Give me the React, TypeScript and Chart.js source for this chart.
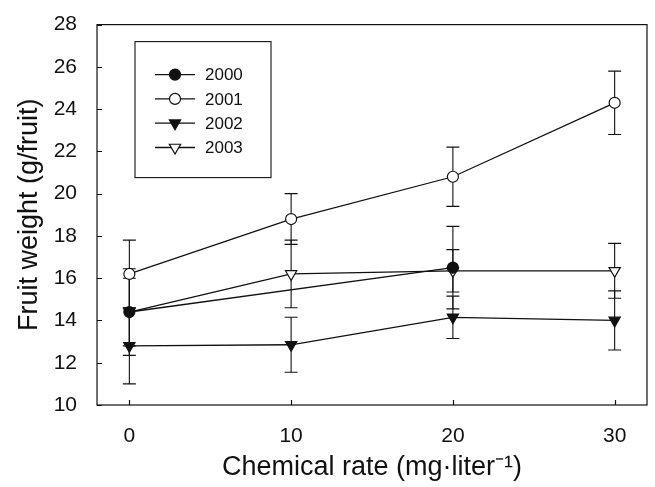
import React, { useEffect, useRef } from 'react';
import { Chart, registerables } from 'chart.js';

Chart.register(...registerables);

// ---- data ----
const xRates = [0, 10, 20, 30];
const xTickValues = [0, 10, 20, 30];
const yTickValues = [10, 12, 14, 16, 18, 20, 22, 24, 26, 28];
const seriesNames = ['2000', '2001', '2002', '2003'];

const y2000 = [14.4, null, 16.5, null];
const e2000 = [2.05, null, 1.95, null];
const y2001 = [16.2, 18.8, 20.8, 24.3];
const e2001 = [1.6, 1.2, 1.4, 1.5];
const y2002 = [12.8, 12.85, 14.15, 14.0];
const e2002 = [1.8, 1.3, 1.0, 1.4];
const y2003 = [14.4, 16.2, 16.35, 16.35];
const e2003 = [1.6, 1.6, 1.0, 1.3];

const seriesValues = [y2000, y2001, y2002, y2003];
const seriesErrors = [e2000, e2001, e2002, e2003];

const xTitle = 'Chemical rate (mg\u00B7liter\u207B\u00B9)';
const yTitle = 'Fruit weight (g/fruit)';

// ---- styles ----
const FONT = "'Liberation Sans', Arial, Helvetica, sans-serif";
const INK = '#111111';
const markerKinds = ['circle', 'circle', 'triangle', 'triangle'];
const markerFilled = [true, false, true, false];

function drawMarker(ctx: CanvasRenderingContext2D, kind: string, filled: boolean, x: number, y: number, r: number) {
  ctx.beginPath();
  if (kind === 'circle') {
    ctx.arc(x, y, r, 0, Math.PI * 2);
  } else {
    ctx.moveTo(x - r * 0.866, y - r * 0.5);
    ctx.lineTo(x + r * 0.866, y - r * 0.5);
    ctx.lineTo(x, y + r);
    ctx.closePath();
  }
  ctx.fillStyle = filled ? INK : '#ffffff';
  ctx.fill();
  ctx.lineWidth = 1.2;
  ctx.strokeStyle = INK;
  ctx.stroke();
}

const decorPlugin = {
  id: 'decor',
  beforeDatasetsDraw(chart: any) {
    const { ctx, chartArea: a, scales } = chart;
    const xs = scales.x;
    const ys = scales.y;
    ctx.save();
    // frame
    ctx.strokeStyle = INK;
    ctx.lineWidth = 1.2;
    ctx.strokeRect(a.left, a.top, a.right - a.left, a.bottom - a.top);
    // inward ticks
    ctx.beginPath();
    xTickValues.forEach((v) => {
      const px = Math.round(xs.getPixelForValue(v)) + 0.5;
      ctx.moveTo(px, a.bottom);
      ctx.lineTo(px, a.bottom - 5);
    });
    yTickValues.forEach((v) => {
      const py = Math.round(ys.getPixelForValue(v)) + 0.5;
      ctx.moveTo(a.left, py);
      ctx.lineTo(a.left + 5, py);
    });
    ctx.stroke();
    // error bars
    ctx.lineWidth = 1.1;
    const cap = 6.5;
    seriesValues.forEach((vals, si) => {
      const errs = seriesErrors[si];
      vals.forEach((v, i) => {
        const e = errs[i];
        if (v == null || e == null) return;
        const px = xs.getPixelForValue(xRates[i]);
        const top = ys.getPixelForValue(v + e);
        const bot = ys.getPixelForValue(v - e);
        ctx.beginPath();
        ctx.moveTo(px, top);
        ctx.lineTo(px, bot);
        ctx.moveTo(px - cap, top);
        ctx.lineTo(px + cap, top);
        ctx.moveTo(px - cap, bot);
        ctx.lineTo(px + cap, bot);
        ctx.stroke();
      });
    });
    ctx.restore();
  },
  afterDraw(chart: any) {
    const { ctx, chartArea: a } = chart;
    ctx.save();
    const bx = a.left + 38;
    const by = a.top + 17;
    const bw = 136;
    const bh = 136;
    ctx.strokeStyle = INK;
    ctx.lineWidth = 1.1;
    ctx.strokeRect(bx, by, bw, bh);
    ctx.font = `17px ${FONT}`;
    ctx.textBaseline = 'middle';
    ctx.textAlign = 'left';
    seriesNames.forEach((name, i) => {
      const ry = by + 33 + i * 24.3;
      ctx.beginPath();
      ctx.strokeStyle = INK;
      ctx.lineWidth = 1.3;
      ctx.moveTo(bx + 20, ry);
      ctx.lineTo(bx + 60, ry);
      ctx.stroke();
      drawMarker(ctx, markerKinds[i], markerFilled[i], bx + 40, ry, markerKinds[i] === 'circle' ? 5.5 : 6.5);
      ctx.fillStyle = INK;
      ctx.fillText(name, bx + 70, ry + 1);
    });
    ctx.restore();
  },
};

export default function App() {
  const ref = useRef<HTMLCanvasElement | null>(null);
  useEffect(() => {
    if (!ref.current) return;
    const datasets = seriesNames.map((name, si) => ({
      label: name,
      data: xRates.map((x, i) => ({ x, y: seriesValues[si][i] })),
      borderColor: INK,
      borderWidth: 1.3,
      backgroundColor: markerFilled[si] ? INK : '#ffffff',
      pointBackgroundColor: markerFilled[si] ? INK : '#ffffff',
      pointBorderColor: INK,
      pointBorderWidth: 1.2,
      pointStyle: markerKinds[si],
      pointRotation: markerKinds[si] === 'triangle' ? 180 : 0,
      pointRadius: markerKinds[si] === 'circle' ? 5.5 : 6.5,
      spanGaps: true,
      tension: 0,
      fill: false,
    }));
    const chart = new Chart(ref.current, {
      type: 'line',
      data: { datasets },
      options: {
        animation: false,
        responsive: true,
        maintainAspectRatio: false,
        layout: { padding: { left: 0, top: 20, right: 8, bottom: 0 } },
        plugins: { legend: { display: false }, tooltip: { enabled: false } },
        scales: {
          x: {
            type: 'linear',
            min: -2,
            max: 32,
            grid: { display: false },
            border: { display: false },
            afterBuildTicks: (s: any) => {
              s.ticks = xTickValues.map((v) => ({ value: v }));
            },
            afterFit: (s: any) => {
              s.height = 82;
            },
            ticks: { font: { family: FONT, size: 21 }, color: INK, padding: 11, maxRotation: 0 },
            title: {
              display: true,
              text: xTitle,
              font: { family: FONT, size: 27 },
              color: INK,
              padding: { top: 0, bottom: 3 },
            },
          },
          y: {
            type: 'linear',
            min: 10,
            max: 28,
            grid: { display: false },
            border: { display: false },
            afterBuildTicks: (s: any) => {
              s.ticks = yTickValues.map((v) => ({ value: v }));
            },
            afterFit: (s: any) => {
              s.width = 97;
            },
            ticks: { font: { family: FONT, size: 21 }, color: INK, padding: 12 },
            title: {
              display: true,
              text: yTitle,
              font: { family: FONT, size: 27 },
              color: INK,
              padding: { top: 13, bottom: 0 },
            },
          },
        },
      },
      plugins: [decorPlugin],
    } as any);
    return () => chart.destroy();
  }, []);
  return (
    <div style={{ position: 'fixed', left: 0, top: 0, width: 655, height: 487, background: '#fff' }}>
      <canvas ref={ref} />
    </div>
  );
}
